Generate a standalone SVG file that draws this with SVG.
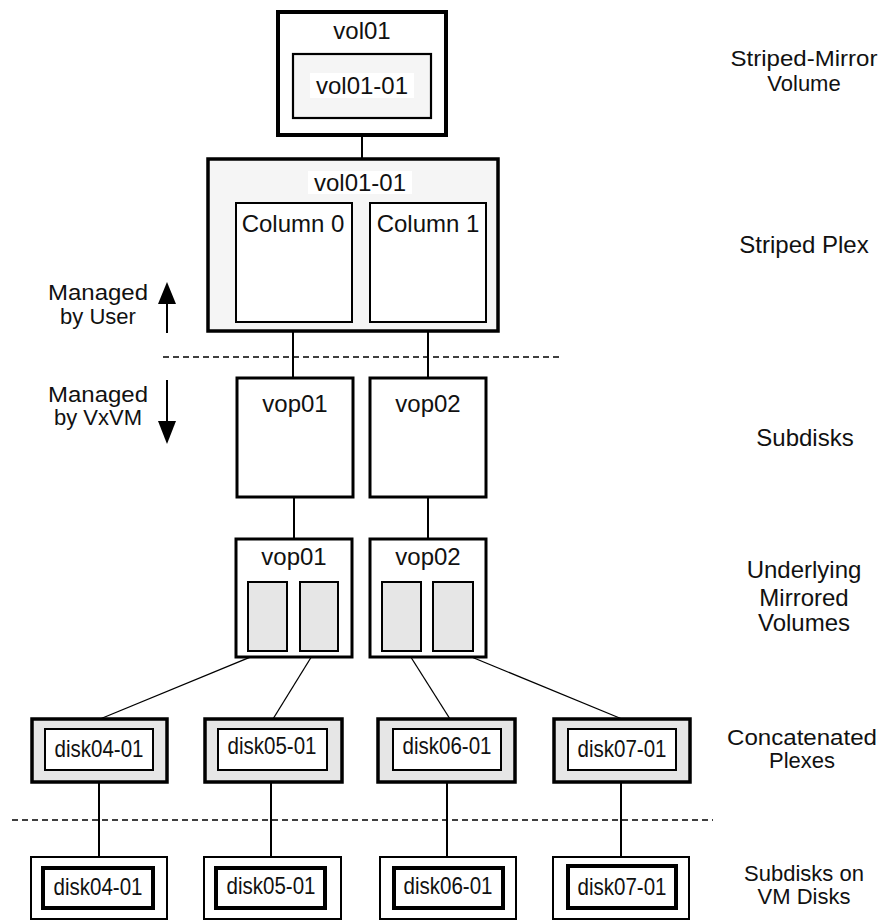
<svg xmlns="http://www.w3.org/2000/svg" width="888" height="921" viewBox="0 0 888 921">
<style>
text{font-family:"Liberation Sans",Arial,sans-serif;font-size:24px;fill:#111}
.c{text-anchor:middle}
.s{font-size:22px}
.k{fill:none;stroke:#000}
.lt{fill:#f5f5f5;stroke:#000}
.w{fill:#fff;stroke:#000}
.g{fill:#e6e6e6;stroke:#000}
.ln{stroke:#000;stroke-width:2;fill:none}
.dg{stroke:#000;stroke-width:1.3;fill:none}
.ds{stroke:#000;stroke-width:1.5;stroke-dasharray:6,4;fill:none}
</style>
<rect width="888" height="921" fill="#fff"/>
<g id="connectors">
<line class="ln" x1="362" y1="118" x2="362" y2="159"/>
<line class="ln" x1="293" y1="322" x2="293" y2="378"/>
<line class="ln" x1="428" y1="322" x2="428" y2="378"/>
<line class="ln" x1="294" y1="497" x2="294" y2="539"/>
<line class="ln" x1="428" y1="497" x2="428" y2="539"/>
<line class="dg" x1="265" y1="651" x2="100" y2="719"/>
<line class="dg" x1="315" y1="651" x2="273" y2="719"/>
<line class="dg" x1="407" y1="651" x2="450" y2="719"/>
<line class="dg" x1="457" y1="651" x2="622" y2="719"/>
<line class="ln" x1="99" y1="770" x2="99" y2="868"/>
<line class="ln" x1="271" y1="770" x2="271" y2="868"/>
<line class="ln" x1="447" y1="770" x2="447" y2="868"/>
<line class="ln" x1="621" y1="770" x2="621" y2="866"/>
<line class="ds" x1="163" y1="357" x2="563" y2="357"/>
<line class="ds" x1="12" y1="820" x2="713" y2="820"/>
<line class="ln" x1="167" y1="333" x2="167" y2="300"/>
<polygon points="167,282 158,304 176,304" fill="#000"/>
<line class="ln" x1="167" y1="380" x2="167" y2="424"/>
<polygon points="167,444 158,421 176,421" fill="#000"/>
</g>
<g id="vol01">
<rect class="w" x="278" y="12" width="168" height="123" stroke-width="4"/>
<text class="c" x="362" y="39">vol01</text>
<rect class="lt" x="293" y="54" width="138" height="64" stroke-width="2.2"/>
<rect x="310" y="73" width="104" height="25" fill="#fff"/>
<text class="c" x="362" y="94">vol01-01</text>
</g>
<g id="striped-plex">
<rect class="lt" x="208" y="159" width="290" height="172" stroke-width="3.5"/>
<rect x="308" y="171" width="104" height="23" fill="#fff"/>
<text class="c" x="360" y="191">vol01-01</text>
</g>
<g id="column0">
<rect class="w" x="236" y="203" width="116" height="119" stroke-width="2"/>
<text class="c" x="293" y="232">Column 0</text>
</g>
<g id="column1">
<rect class="w" x="370" y="203" width="116" height="119" stroke-width="2"/>
<text class="c" x="428" y="232">Column 1</text>
</g>
<g id="sd-vop01">
<rect class="w" x="237" y="378" width="116" height="119" stroke-width="3"/>
<text class="c" x="295" y="412">vop01</text>
</g>
<g id="sd-vop02">
<rect class="w" x="370" y="378" width="116" height="119" stroke-width="3"/>
<text class="c" x="428" y="412">vop02</text>
</g>
<g id="mv-vop01">
<rect class="w" x="236" y="539" width="116" height="118" stroke-width="3"/>
<text class="c" x="294" y="565">vop01</text>
<rect class="g" x="248" y="582" width="39" height="69" stroke-width="2"/>
<rect class="g" x="300" y="582" width="38" height="69" stroke-width="2"/>
</g>
<g id="mv-vop02">
<rect class="w" x="370" y="539" width="116" height="118" stroke-width="3"/>
<text class="c" x="428" y="565">vop02</text>
<rect class="g" x="382" y="582" width="39" height="69" stroke-width="2"/>
<rect class="g" x="433" y="582" width="40" height="69" stroke-width="2"/>
</g>
<g id="plex-disk04">
<rect class="g" x="32" y="719" width="135" height="63" stroke-width="3.5"/>
<rect class="w" x="45" y="729" width="108" height="41" stroke-width="2"/>
<text class="c" x="99" y="757" textLength="89" lengthAdjust="spacingAndGlyphs">disk04-01</text>
</g>
<g id="plex-disk05">
<rect class="g" x="205" y="719" width="137" height="63" stroke-width="3.5"/>
<rect class="w" x="218" y="729" width="109" height="41" stroke-width="2"/>
<text class="c" x="272" y="754" textLength="89" lengthAdjust="spacingAndGlyphs">disk05-01</text>
</g>
<g id="plex-disk06">
<rect class="g" x="378" y="719" width="137" height="63" stroke-width="3.5"/>
<rect class="w" x="393" y="729" width="108" height="41" stroke-width="2"/>
<text class="c" x="447" y="754" textLength="89" lengthAdjust="spacingAndGlyphs">disk06-01</text>
</g>
<g id="plex-disk07">
<rect class="g" x="554" y="719" width="136" height="63" stroke-width="3.5"/>
<rect class="w" x="568" y="729" width="108" height="41" stroke-width="2"/>
<text class="c" x="622" y="757" textLength="89" lengthAdjust="spacingAndGlyphs">disk07-01</text>
</g>
<g id="sd-disk04">
<rect class="w" x="31" y="857" width="136" height="62" stroke-width="2"/>
<rect class="w" x="43" y="868" width="110" height="40" stroke-width="4"/>
<text class="c" x="98" y="895" textLength="89" lengthAdjust="spacingAndGlyphs">disk04-01</text>
</g>
<g id="sd-disk05">
<rect class="w" x="204" y="857" width="137" height="62" stroke-width="2"/>
<rect class="w" x="216" y="868" width="109" height="40" stroke-width="4"/>
<text class="c" x="271" y="894" textLength="89" lengthAdjust="spacingAndGlyphs">disk05-01</text>
</g>
<g id="sd-disk06">
<rect class="w" x="380" y="857" width="136" height="62" stroke-width="2"/>
<rect class="w" x="394" y="868" width="109" height="40" stroke-width="4"/>
<text class="c" x="448" y="894" textLength="89" lengthAdjust="spacingAndGlyphs">disk06-01</text>
</g>
<g id="sd-disk07">
<rect class="w" x="553" y="857" width="136" height="62" stroke-width="2"/>
<rect class="w" x="568" y="866" width="108" height="42" stroke-width="4"/>
<text class="c" x="622" y="895" textLength="89" lengthAdjust="spacingAndGlyphs">disk07-01</text>
</g>
<g id="labels">
<text class="c s" x="98" y="300" textLength="100" lengthAdjust="spacingAndGlyphs">Managed</text>
<text class="c s" x="98" y="324">by User</text>
<text class="c s" x="98" y="402" textLength="100" lengthAdjust="spacingAndGlyphs">Managed</text>
<text class="c s" x="98" y="425">by VxVM</text>
<text class="c s" x="804" y="66" textLength="147" lengthAdjust="spacingAndGlyphs">Striped-Mirror</text>
<text class="c s" x="804" y="91">Volume</text>
<text class="c" x="804" y="253">Striped Plex</text>
<text class="c" x="805" y="446">Subdisks</text>
<text class="c" x="804" y="578">Underlying</text>
<text class="c" x="804" y="606">Mirrored</text>
<text class="c" x="804" y="631">Volumes</text>
<text class="c s" x="802" y="745" textLength="150" lengthAdjust="spacingAndGlyphs">Concatenated</text>
<text class="c s" x="802" y="768">Plexes</text>
<text class="c s" x="804" y="881">Subdisks on</text>
<text class="c s" x="804" y="904">VM Disks</text>
</g>
</svg>
